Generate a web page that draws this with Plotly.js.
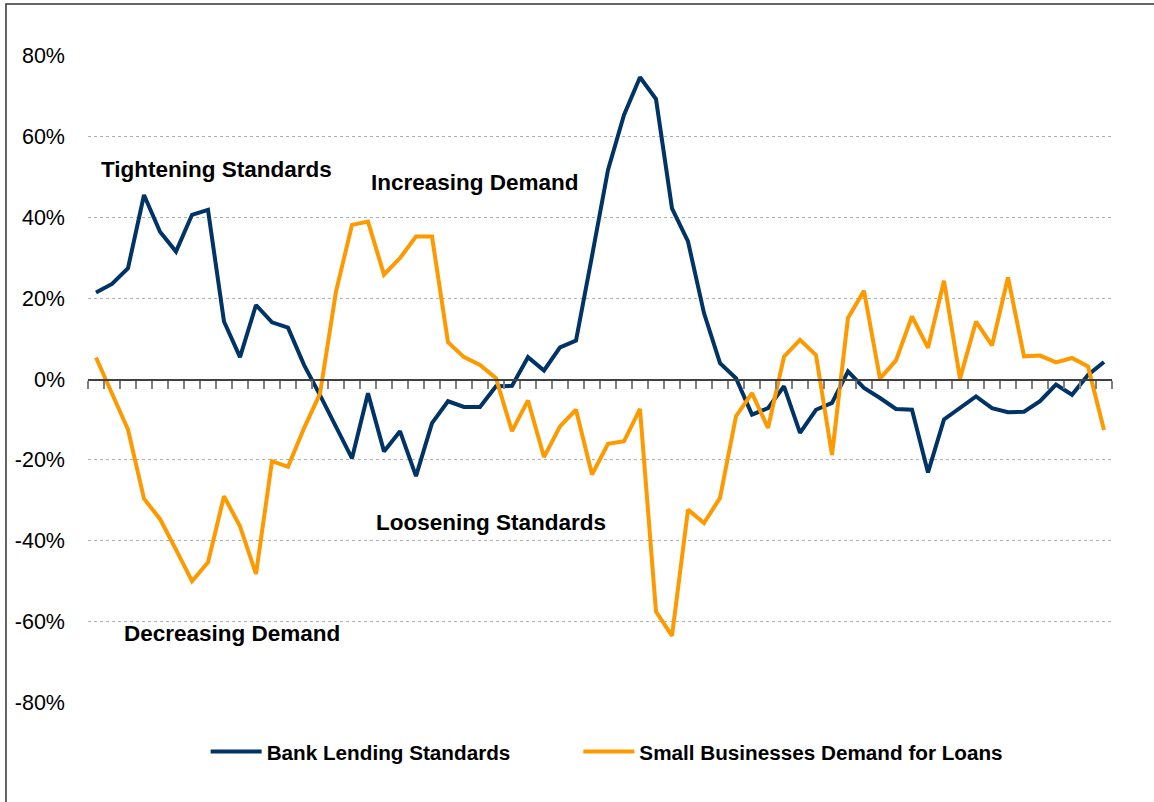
<!DOCTYPE html>
<html>
<head>
<meta charset="utf-8">
<script src="https://cdn.plot.ly/plotly-3.0.1.min.js"></script>
<style>
  html, body { margin: 0; padding: 0; background: #fff; }
  #chart { width: 1154px; height: 802px; }
</style>
</head>
<body>
<div id="chart"></div>
<script>
// Survey periods (quarterly, 64 observations), shown without labels
const periods = Array.from({length: 64}, (_, i) => i);

// Net % of banks tightening standards for small firms
const bankLendingStandards = [
  21.4, 23.5, 27.4, 45.5, 36.4, 31.5, 40.6, 41.8, 14.2, 5.4,
  18.3, 14.0, 12.7, 3.5, -4.0, -11.8, -19.6, -3.5, -17.9, -12.9,
  -24.0, -10.9, -5.5, -6.9, -6.9, -1.8, -1.7, 5.4, 2.1, 7.8,
  9.5, 30.4, 51.7, 65.3, 74.6, 69.2, 42.2, 34.0, 16.3, 3.9,
  0.2, -8.8, -7.2, -1.8, -13.3, -7.6, -5.9, 1.9, -2.2, -4.7,
  -7.4, -7.6, -23.1, -10.0, -7.2, -4.3, -7.2, -8.2, -8.1, -5.5,
  -1.4, -3.9, 1.0, 4.2
];

// Net % of banks reporting stronger loan demand from small firms
const smallBusinessDemand = [
  5.3, -3.4, -12.5, -29.6, -34.6, -42.2, -50.0, -45.3, -29.0, -36.4,
  -48.2, -20.3, -21.7, -12.2, -3.6, 21.6, 38.1, 38.9, 25.8, 29.9,
  35.2, 35.2, 9.1, 5.4, 3.5, 0.2, -12.9, -5.3, -19.3, -11.7,
  -7.6, -23.6, -16.0, -15.4, -7.4, -57.5, -63.5, -32.3, -35.6, -29.4,
  -9.2, -3.5, -12.1, 5.5, 9.7, 5.9, -18.8, 15.1, 21.8, 0.1,
  4.6, 15.5, 7.7, 24.3, 0.1, 14.2, 8.3, 25.1, 5.6, 5.8,
  4.1, 5.2, 3.1, -12.6
];

const seriesNames = ['Bank Lending Standards', 'Small Businesses Demand for Loans'];
const yTickVals = [-80, -60, -40, -20, 0, 20, 40, 60, 80];
const yTickLabels = ['-80%', '-60%', '-40%', '-20%', '0%', '20%', '40%', '60%', '80%'];

const regionLabels = ['Tightening Standards', 'Increasing Demand', 'Loosening Standards', 'Decreasing Demand'];
const regionLabelX = [7.5, 23.7, 24.7, 8.5];
const regionLabelY = [51.7, 48.5, -35.5, -62.9];

const FONT = '"Liberation Sans", Arial, sans-serif';

const traces = [
  {
    x: periods, y: bankLendingStandards, name: seriesNames[0],
    type: 'scatter', mode: 'lines',
    line: {color: '#003366', width: 4}
  },
  {
    x: periods, y: smallBusinessDemand, name: seriesNames[1],
    type: 'scatter', mode: 'lines',
    line: {color: '#FF9900', width: 4}
  }
];

const annotations = regionLabels.map((t, i) => ({
  text: t, x: regionLabelX[i], y: regionLabelY[i], xref: 'x', yref: 'y',
  showarrow: false, xanchor: 'center', yanchor: 'middle',
  font: {family: FONT, size: 22.5, color: '#000', weight: 'bold'}
}));

const layout = {
  width: 1154, height: 802,
  margin: {l: 88, r: 42, t: 55, b: 99},
  paper_bgcolor: '#fff', plot_bgcolor: '#fff',
  font: {family: FONT, color: '#000'},
  showlegend: true,
  legend: {
    orientation: 'h', x: 0.506, xanchor: 'center', y: -0.075, yanchor: 'middle',
    font: {family: FONT, size: 20.7, color: '#000', weight: 'bold'},
    itemwidth: 50
  },
  xaxis: {
    type: 'linear', range: [-0.5, 63.5],
    tick0: -0.5, dtick: 1,
    ticks: 'outside', ticklen: 8, tickwidth: 1.5, tickcolor: '#808080',
    showticklabels: false, showgrid: false, zeroline: false,
    showline: true, linecolor: '#404040', linewidth: 1.5,
    anchor: 'free', position: 0.5
  },
  yaxis: {
    range: [-80.1, 80.1],
    tickvals: yTickVals, ticktext: yTickLabels,
    ticks: '', ticklabelstandoff: 22,
    tickfont: {family: FONT, size: 21.5, color: '#000'},
    showgrid: true, gridcolor: '#b0b0b0', griddash: 'dot', gridwidth: 1,
    zeroline: false, showline: false
  },
  annotations: annotations,
  shapes: [{
    type: 'rect', xref: 'paper', yref: 'paper',
    x0: -0.0801, x1: 1.06, y0: -0.25, y1: 1.0787,
    line: {color: '#333333', width: 1.5}, fillcolor: 'rgba(0,0,0,0)', layer: 'below'
  }]
};

function shiftTranslate(el, dx) {
  const t = el.getAttribute('transform') || '';
  const m = t.match(/translate\(\s*([-\d.eE]+)[ ,]+([-\d.eE]+)\s*\)/);
  if (!m) return;
  el.setAttribute('transform', t.replace(m[0], 'translate(' + (parseFloat(m[1]) + dx) + ',' + m[2] + ')'));
}

Plotly.newPlot('chart', traces, layout, {displayModeBar: false, staticPlot: true}).then(gd => {
  const items = gd.querySelectorAll('.legend .traces');
  // lengthen legend line samples to match the reference
  items.forEach(item => {
    const txt = item.querySelector('text.legendtext');
    const path = item.querySelector('.legendlines path');
    if (!txt || !path) return;
    const tx = parseFloat(txt.getAttribute('x')) || 60;
    path.setAttribute('d', 'M' + (tx - 56) + ',0h51');
  });
  // wider gap between the two legend entries, as in the reference
  gd.querySelectorAll('.legend .scrollbox, .legend').forEach(el => el.removeAttribute('clip-path'));
  if (items[1]) shiftTranslate(items[1], 64);
  const leg = gd.querySelector('.infolayer .legend');
  if (leg) shiftTranslate(leg, -31);
});
</script>
</body>
</html>
